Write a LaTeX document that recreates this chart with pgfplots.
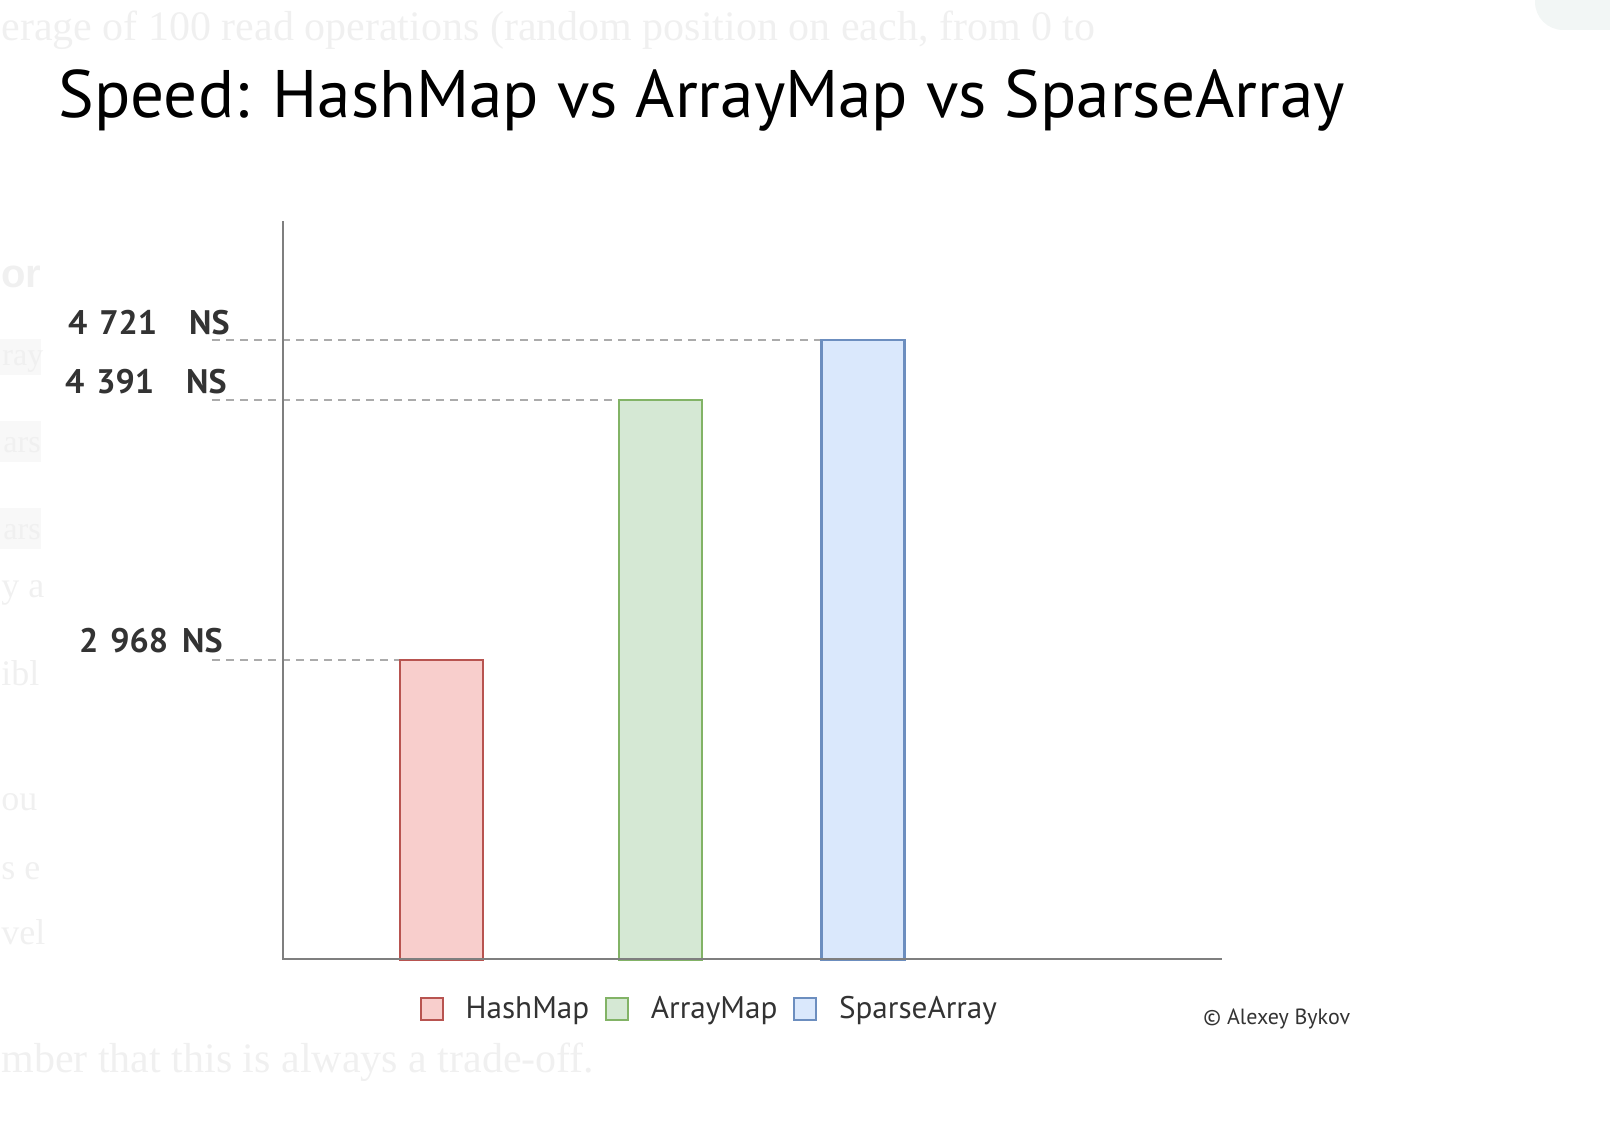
\documentclass[border=0pt]{standalone}
\usepackage{fontspec}
\setmainfont{PT Sans}
\newfontfamily\bgfont{Liberation Serif}
\newfontfamily\bgsans{Liberation Sans}
\usepackage{pgfplots}
\pgfplotsset{compat=1.18}
\definecolor{hmfill}{HTML}{F8CECC}
\definecolor{hmdraw}{HTML}{B85450}
\definecolor{amfill}{HTML}{D5E8D4}
\definecolor{amdraw}{HTML}{82B366}
\definecolor{safill}{HTML}{DAE8FC}
\definecolor{sadraw}{HTML}{6C8EBF}
\definecolor{axgray}{HTML}{7F7F7F}
\definecolor{dashgray}{HTML}{ABABAB}
\definecolor{txt}{HTML}{333333}
\definecolor{bgtxt}{HTML}{F0F0F0}
\definecolor{bgbox}{HTML}{F8F8F8}
\definecolor{bgpill}{HTML}{F2F6F5}
\begin{document}
\begin{tikzpicture}
% page size: 1610 x 1138 px at 0.5pt per px
\begin{scope}[x=0.5pt,y=0.5pt]
\useasboundingbox (0,0) rectangle (1610,1138);
\begin{scope}
\clip (0,0) rectangle (1610,1138);
\fill[bgpill, rounded corners=14pt] (1535,1108) rectangle (1680,1180);
\end{scope}
\node[anchor=base west, inner sep=0, text=bgtxt, font=\bgfont\fontsize{21}{24}\selectfont] at (1,1097) {erage of 100 read operations (random position on each, from 0 to};
\node[anchor=base west, inner sep=0, text=bgtxt, font=\bgfont\fontsize{21}{24}\selectfont] at (1,65) {mber that this is always a trade-off.};
\fill[bgbox] (0,763) rectangle (41,799);
\fill[bgbox] (0,676) rectangle (41,717);
\fill[bgbox] (0,589) rectangle (41,630);
\node[anchor=base west, inner sep=0, text=bgtxt, font=\bgsans\bfseries\fontsize{20}{24}\selectfont] at (1,850) {or};
\node[anchor=base west, inner sep=0, text=bgtxt, font=\bgfont\fontsize{16}{20}\selectfont] at (2,772) {ray};
\node[anchor=base west, inner sep=0, text=bgtxt, font=\bgfont\fontsize{16}{20}\selectfont] at (3,685) {ars};
\node[anchor=base west, inner sep=0, text=bgtxt, font=\bgfont\fontsize{16}{20}\selectfont] at (3,598) {ars};
\node[anchor=base west, inner sep=0, text=bgtxt, font=\bgfont\fontsize{18}{24}\selectfont] at (1,540) {y a};
\node[anchor=base west, inner sep=0, text=bgtxt, font=\bgfont\fontsize{18}{24}\selectfont] at (1,452) {ibl};
\node[anchor=base west, inner sep=0, text=bgtxt, font=\bgfont\fontsize{18}{24}\selectfont] at (1,327) {ou};
\node[anchor=base west, inner sep=0, text=bgtxt, font=\bgfont\fontsize{18}{24}\selectfont] at (1,258) {s e};
\node[anchor=base west, inner sep=0, text=bgtxt, font=\bgfont\fontsize{18}{24}\selectfont] at (1,193) {vel};
% title
\node[anchor=base west, inner sep=0, text=black, font=\fontsize{33.6}{40}\selectfont] at (58,1020) {Speed: HashMap vs ArrayMap vs SparseArray};
% copyright
\node[anchor=base west, inner sep=0, text=txt, font=\fontsize{11}{13}\selectfont] at (1203,113) {© Alexey Bykov};
\end{scope}
\begin{axis}[
  at={(102.5pt,88.89pt)}, anchor=south west,
  scale only axis, width=510.25pt, height=370.36pt,
  xmin=-0.1222, xmax=4.72, ymin=1326, ymax=5380,
  hide axis,
  clip mode=individual,
  legend columns=-1,
  legend style={at={(0.2107,-0.0659)}, anchor=west, draw=none, fill=none,
    inner sep=0pt, outer sep=0pt,
    font=\fontsize{15.6}{18}\selectfont\color{txt},
    nodes={inner sep=0pt},
    /tikz/every odd column/.append style={column sep=11pt},
    /tikz/every even column/.append style={column sep=8pt}},
  legend image code/.code={\draw[#1,/tikz/.cd,line width=1pt] (0pt,-5.4pt) rectangle (10.8pt,5.4pt);},
]
% dashed guide lines
\addplot[forget plot, dashgray, dash pattern=on 4pt off 3pt, line width=0.8pt] coordinates {(-0.09,4721) (2.803,4721)};
\addplot[forget plot, dashgray, dash pattern=on 4pt off 3pt, line width=0.8pt] coordinates {(-0.09,4391) (1.843,4391)};
\addplot[forget plot, dashgray, dash pattern=on 4pt off 3pt, line width=0.8pt] coordinates {(-0.09,2968) (0.803,2968)};
% bars
\addplot[ybar, bar width=41.5pt, bar shift=0pt, fill=hmfill, draw=hmdraw, line width=1.1pt] coordinates {(1,2968)};
\addplot[ybar, bar width=41.5pt, bar shift=0pt, fill=amfill, draw=amdraw, line width=1.1pt] coordinates {(2.04,4391)};
\addplot[ybar, bar width=41.5pt, bar shift=0pt, fill=safill, draw=sadraw, line width=1.1pt] coordinates {(3,4721)};
\legend{HashMap, ArrayMap\hspace{6pt}, SparseArray}
% axis lines
\addplot[forget plot, axgray, line width=1.3pt] coordinates {(0.2479,5371.7) (0.2479,1332.7) (4.7034,1332.7)};
% value labels
\node[anchor=base east, inner sep=0, text=txt, font=\bfseries\fontsize{17}{20}\selectfont, yshift=2.8pt] at (axis cs:-0.0036,4721) {4\hspace{6pt}721\hspace{16pt}NS};
\node[anchor=base east, inner sep=0, text=txt, font=\bfseries\fontsize{17}{20}\selectfont, yshift=3.5pt] at (axis cs:-0.0178,4391) {4\hspace{6pt}391\hspace{16pt}NS};
\node[anchor=base east, inner sep=0, text=txt, font=\bfseries\fontsize{17}{20}\selectfont, yshift=4pt] at (axis cs:-0.0368,2968) {2\hspace{6pt}968\hspace{7pt}NS};
\end{axis}
\end{tikzpicture}
\end{document}
